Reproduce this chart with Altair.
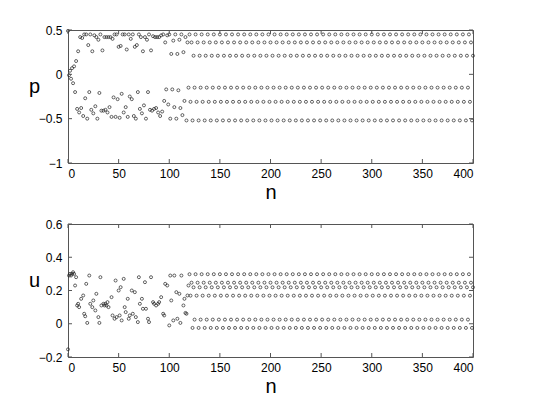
import altair as alt
import pandas as pd

# ---------------- data ----------------
x_ticks = [0, 50, 100, 150, 200, 250, 300, 350, 400]
p_ticks = [-1, -0.5, 0, 0.5]
u_ticks = [-0.2, 0, 0.2, 0.4, 0.6]

# p, transient: values at even n (0..118) and odd n (1..119)
p_even = [0.49, 0.04, 0.07, 0.09, 0.15, 0.26, 0.42, 0.41, 0.45, 0.45,
          0.33, 0.45, 0.26, 0.44, 0.42, 0.39, 0.45, 0.27, 0.42, 0.42,
          0.42, 0.42, 0.40, 0.45, 0.45, 0.31, 0.32, 0.45, 0.45, 0.28,
          0.45, 0.40, 0.45, 0.31, 0.33, 0.45, 0.42, 0.26, 0.42, 0.39,
          0.45, 0.27, 0.43, 0.42, 0.42, 0.42, 0.44, 0.45, 0.36, 0.44,
          0.45, 0.23, 0.38, 0.45, 0.23, 0.39, 0.45, 0.25, 0.42, 0.36]
p_odd = [-0.01, -0.05, -0.10, -0.20, -0.39, -0.43, -0.38, -0.47, -0.27, -0.50,
         -0.20, -0.40, -0.44, -0.36, -0.50, -0.21, -0.41, -0.41, -0.40, -0.43,
         -0.37, -0.48, -0.26, -0.48, -0.28, -0.49, -0.22, -0.43, -0.37, -0.48,
         -0.25, -0.28, -0.47, -0.50, -0.20, -0.39, -0.44, -0.35, -0.50, -0.20,
         -0.40, -0.41, -0.39, -0.38, -0.43, -0.47, -0.42, -0.30, -0.17, -0.34,
         -0.50, -0.17, -0.37, -0.50, -0.18, -0.38, -0.46, -0.30, -0.52, -0.15]
# p, settled period-6 cycle from n = 120 on
p_cycle = [0.45, -0.31, 0.36, -0.52, 0.21, -0.15]

# u, transient readings
u_n = [0, 1, 2, 3, 4, 5, 6, 7, 8, 9, 10, 11, 13, 15, 16, 17, 18, 19, 21, 22,
       24, 25, 27, 28, 30, 31, 32, 33, 35, 36, 37, 38, 39, 40, 43, 44, 46, 47,
       48, 50, 51, 52, 53, 55, 56, 57, 59, 60, 61, 63, 64, 66, 67, 69, 70, 71,
       73, 74, 76, 77, 79, 80, 82, 84, 85, 87, 89, 90, 92, 94, 95, 96, 98, 100,
       101, 102, 104, 105, 107, 108, 110, 111, 112, 114, 115, 116, 117, 118, 119]
u_val = [-0.154, 0.29, 0.30, 0.29, 0.30, 0.31, 0.30, 0.23, 0.28, 0.11, 0.12, 0.10,
         0.15, 0.17, 0.06, 0.045, 0.24, 0.005, 0.29, 0.12, 0.10, 0.14, 0.08, 0.18,
         0.04, 0.005, 0.28, 0.11, 0.12, 0.11, 0.12, 0.11, 0.13, 0.10, 0.16, 0.05,
         0.03, 0.26, 0.04, 0.20, 0.05, 0.22, 0.02, 0.27, 0.10, 0.07, 0.15, 0.03,
         0.05, 0.20, 0.06, 0.19, 0.04, 0.01, 0.28, 0.12, 0.15, 0.09, 0.25, 0.09,
         0.03, 0.01, 0.28, 0.13, 0.12, 0.11, 0.12, 0.13, 0.16, 0.06, 0.05, 0.24,
         0.23, -0.01, 0.29, 0.14, 0.02, 0.29, 0.19, 0.03, 0.18, 0.005, 0.29, 0.11,
         0.15, 0.065, 0.06, 0.17, 0.23]
# u, settled period-6 cycle from n = 120 on
u_cycle = [0.298, 0.169, 0.247, -0.025, 0.219, 0.025]

STEADY_START = 120
N_END = 400

# ---------------- tables ----------------
p_rows = []
for i, v in enumerate(p_even):
    p_rows.append({"n": 2 * i, "v": v})
for i, v in enumerate(p_odd):
    p_rows.append({"n": 2 * i + 1, "v": v})
for n in range(STEADY_START, N_END + 1):
    p_rows.append({"n": n, "v": p_cycle[(n - STEADY_START) % 6]})
p_df = pd.DataFrame(p_rows)

u_rows = [{"n": n, "v": v} for n, v in zip(u_n, u_val)]
for n in range(STEADY_START, N_END + 1):
    u_rows.append({"n": n, "v": u_cycle[(n - STEADY_START) % 6]})
u_df = pd.DataFrame(u_rows)

W, H = 405, 133
FRAME = "#555555"
FONT = "Liberation Sans"


def panel(df, name, domain, yticks):
    xs = alt.Scale(domain=[0, 400], nice=False)
    ys = alt.Scale(domain=domain, nice=False, zero=False)
    xaxis = alt.Axis(
        values=x_ticks, format="d", ticks=False, grid=False, domain=False,
        labelOverlap=False, labelPadding=5, title="n", titleFontSize=20,
        titleFontWeight="normal", titleY=35, titleBaseline="alphabetic")
    yaxis = alt.Axis(
        values=yticks, format="~r", ticks=False, grid=False, domain=False,
        labelOverlap=False, labelPadding=6, title=name, titleAngle=0,
        titleX=-34, titleY=H / 2 - 10, titleAlign="center",
        titleBaseline="middle", titleFontSize=20, titleFontWeight="normal")
    pts = alt.Chart(df).mark_point(
        shape="circle", filled=False, size=9, strokeWidth=0.7,
        color="#222222", opacity=1
    ).encode(
        x=alt.X("n:Q", scale=xs, axis=xaxis),
        y=alt.Y("v:Q", scale=ys, axis=yaxis),
    )
    xt = pd.DataFrame({"n": x_ticks})
    yt = pd.DataFrame({"v": yticks})
    bt = alt.Chart(xt).mark_rule(color=FRAME, strokeWidth=1).encode(
        x=alt.X("n:Q", scale=xs, axis=xaxis), y=alt.value(H), y2=alt.value(H - 4))
    tt = alt.Chart(xt).mark_rule(color=FRAME, strokeWidth=1).encode(
        x=alt.X("n:Q", scale=xs, axis=xaxis), y=alt.value(0), y2=alt.value(4))
    lt = alt.Chart(yt).mark_rule(color=FRAME, strokeWidth=1).encode(
        y=alt.Y("v:Q", scale=ys, axis=yaxis), x=alt.value(0), x2=alt.value(4))
    rt = alt.Chart(yt).mark_rule(color=FRAME, strokeWidth=1).encode(
        y=alt.Y("v:Q", scale=ys, axis=yaxis), x=alt.value(W), x2=alt.value(W - 4))
    return alt.layer(pts, bt, tt, lt, rt).properties(width=W, height=H)


top = panel(p_df, "p", [-1, 0.5], p_ticks)
bottom = panel(u_df, "u", [-0.2, 0.6], u_ticks)

chart = alt.vconcat(top, bottom, spacing=14).properties(
    padding={"left": 19, "top": 15, "right": 5, "bottom": 5},
    background="white",
).configure_axis(
    labelFont=FONT, labelFontSize=12, labelColor="black", labelOverlap=False,
    titleFont=FONT, titleColor="black",
).configure_view(stroke=FRAME, strokeWidth=1)

chart.save("out.html", embed_options={"renderer": "svg", "actions": False})
